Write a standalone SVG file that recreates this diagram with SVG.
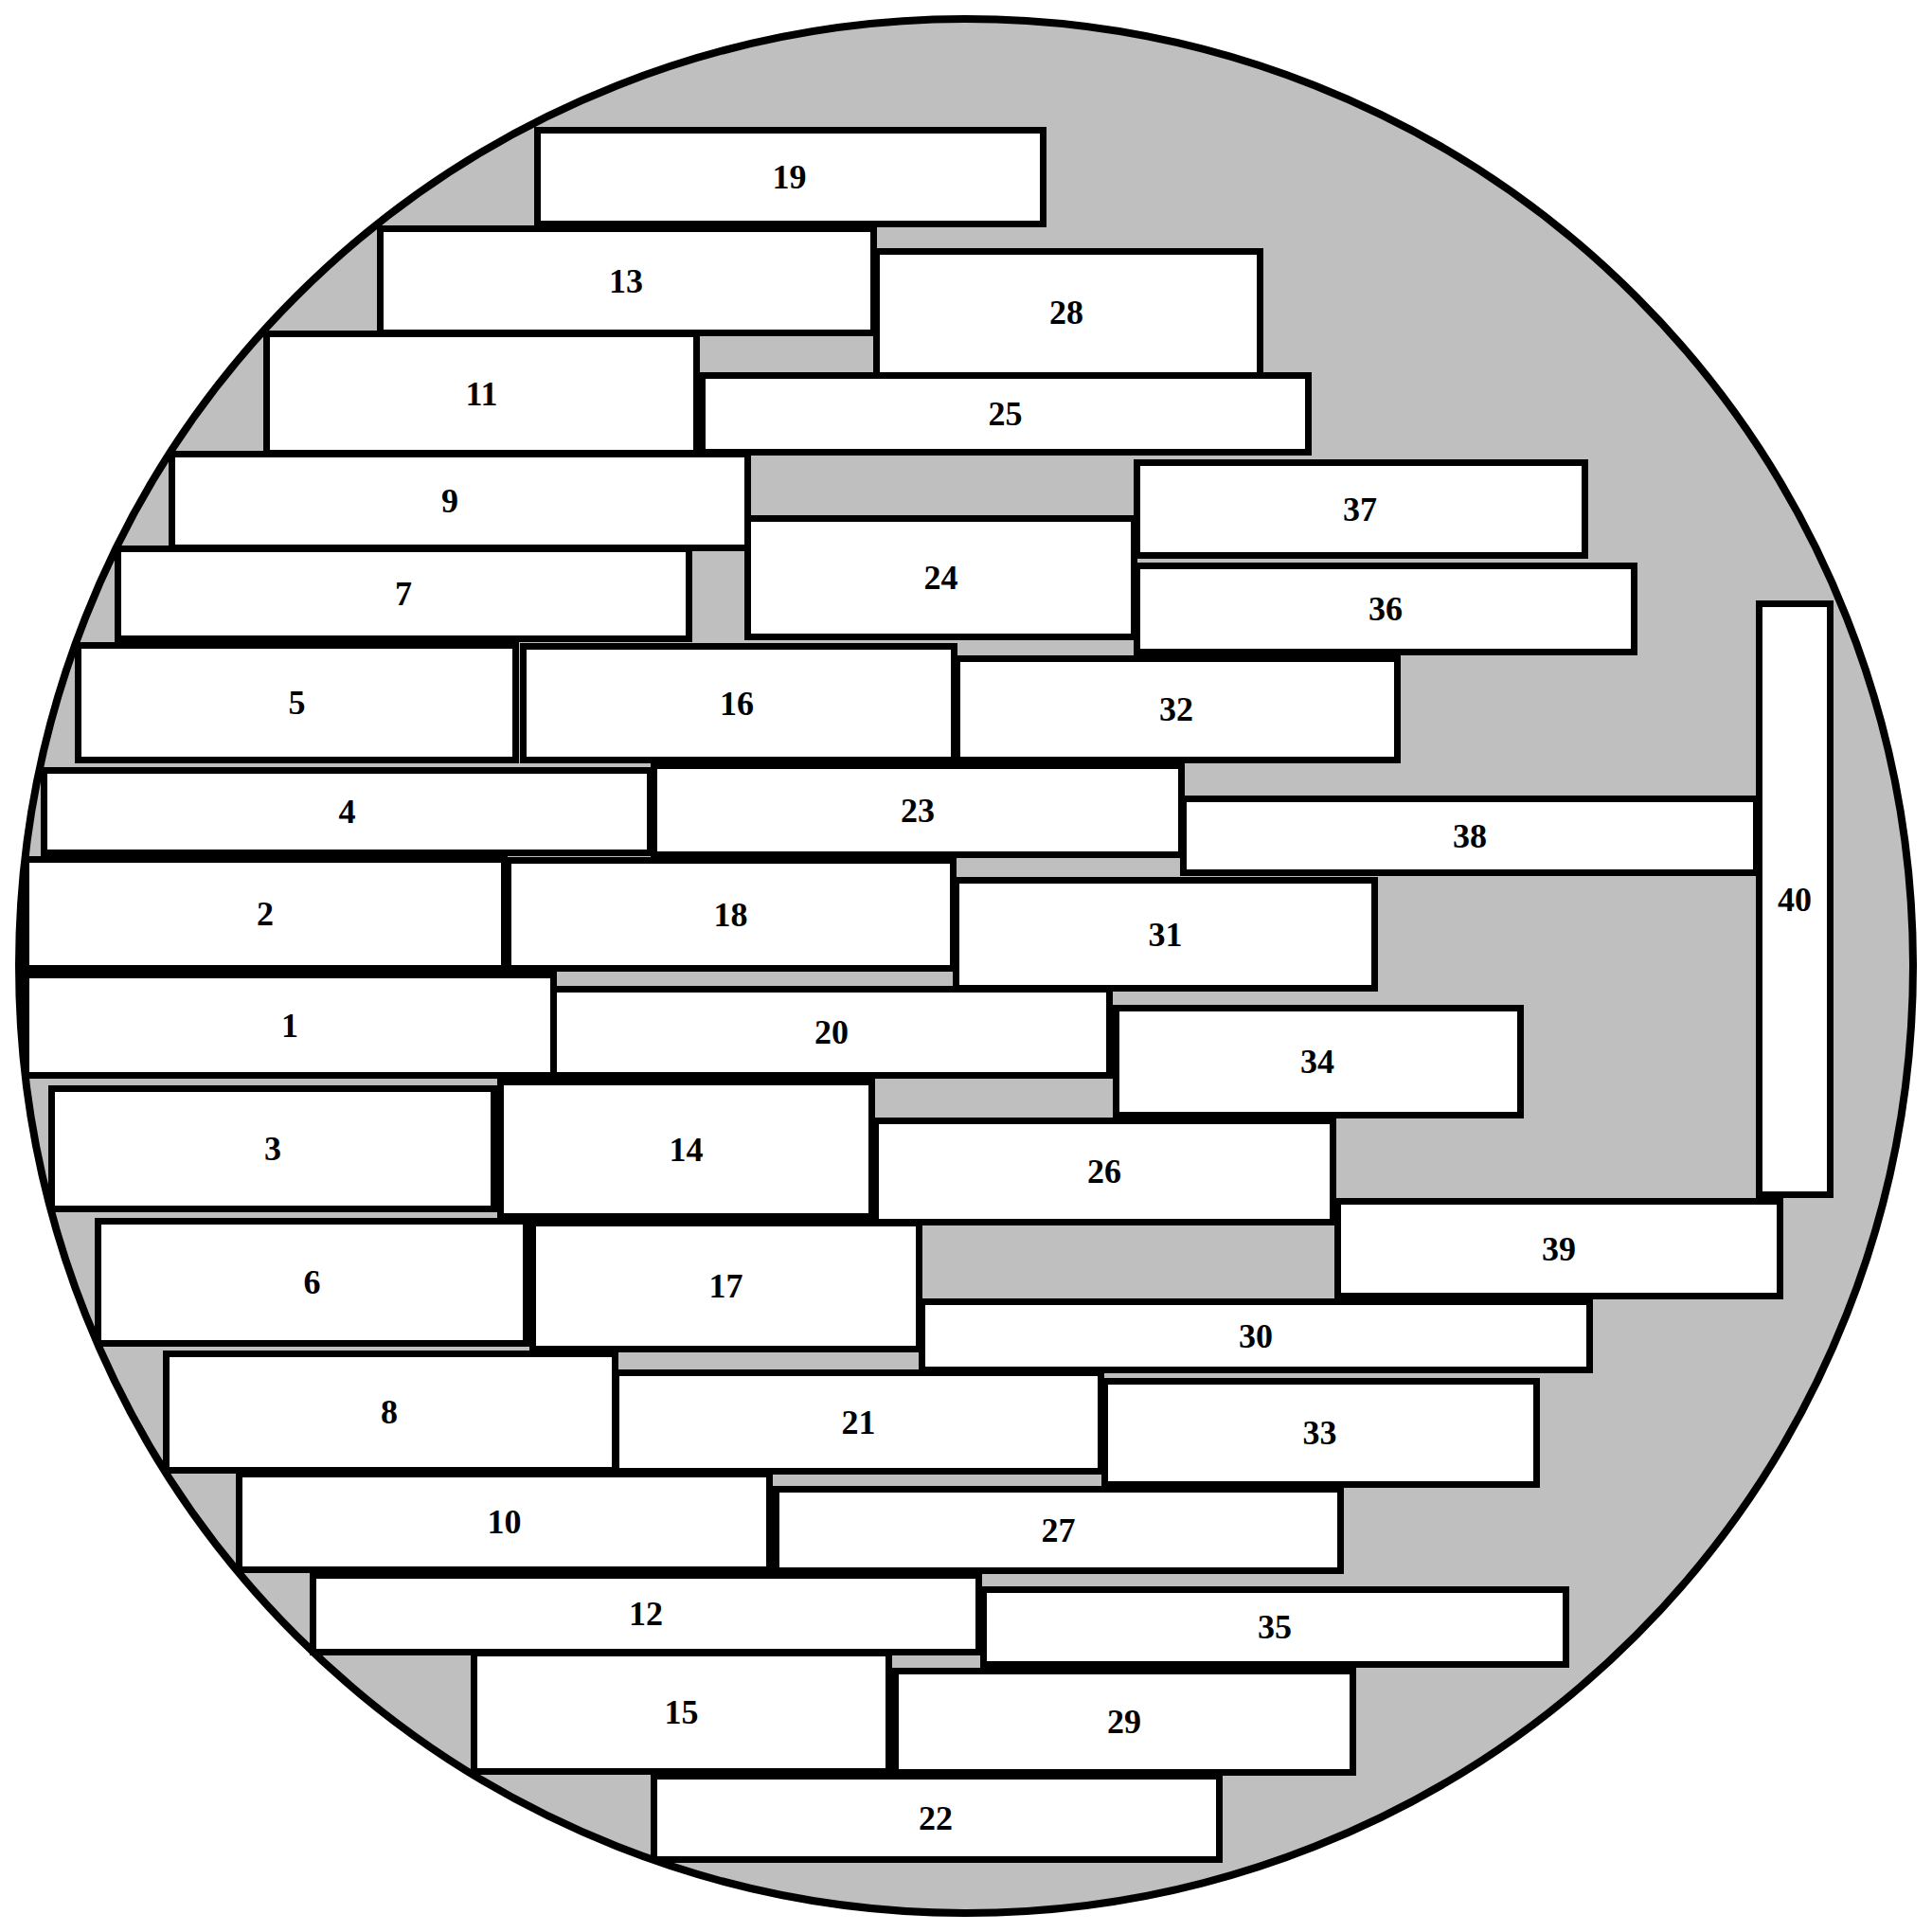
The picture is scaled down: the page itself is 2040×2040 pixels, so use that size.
<svg xmlns="http://www.w3.org/2000/svg" width="2040" height="2040" viewBox="0 0 2040 2040">
<style>
.bg{fill:#fff}
.disc{fill:#bfbfbf;stroke:#000;stroke-width:8}
.n rect{fill:#fff;stroke:#000;stroke-width:7}
.n text{font-family:"Liberation Serif","Times New Roman",serif;font-weight:bold;font-size:36px;text-anchor:middle;fill:#000}
</style>
<rect class="bg" x="0" y="0" width="2040" height="2040"/>
<circle class="disc" cx="1020" cy="1020" r="1000"/>
<g id="nodes">
<g id="n1" class="n"><rect x="27.5" y="1029.5" width="557" height="106"/><text x="306" y="1095">1</text></g>
<g id="n2" class="n"><rect x="27.5" y="907.5" width="505" height="115"/><text x="280" y="977">2</text></g>
<g id="n3" class="n"><rect x="54.5" y="1149.5" width="467" height="127"/><text x="288" y="1225">3</text></g>
<g id="n4" class="n"><rect x="46.5" y="813.5" width="640" height="87"/><text x="366.5" y="869">4</text></g>
<g id="n5" class="n"><rect x="82.5" y="681.5" width="462" height="121"/><text x="313.5" y="754">5</text></g>
<g id="n6" class="n"><rect x="103.5" y="1289.5" width="452" height="129"/><text x="329.5" y="1366">6</text></g>
<g id="n7" class="n"><rect x="124.5" y="579.5" width="603" height="95"/><text x="426" y="639">7</text></g>
<g id="n8" class="n"><rect x="175.5" y="1429.5" width="474" height="123"/><text x="411" y="1503">8</text></g>
<g id="n9" class="n"><rect x="181.5" y="479.5" width="608" height="99"/><text x="475" y="541">9</text></g>
<g id="n10" class="n"><rect x="252.5" y="1556.5" width="560" height="101"/><text x="532.5" y="1619">10</text></g>
<g id="n11" class="n"><rect x="281.5" y="352.5" width="454" height="126"/><text x="508.5" y="428">11</text></g>
<g id="n12" class="n"><rect x="330.5" y="1663.5" width="703" height="81"/><text x="682" y="1716">12</text></g>
<g id="n13" class="n"><rect x="401.5" y="241.5" width="521" height="110"/><text x="661" y="309">13</text></g>
<g id="n14" class="n"><rect x="528.5" y="1142.5" width="392" height="142"/><text x="724.5" y="1226">14</text></g>
<g id="n15" class="n"><rect x="500.5" y="1745.5" width="438" height="125"/><text x="719.5" y="1820">15</text></g>
<g id="n16" class="n"><rect x="552.5" y="682.5" width="455" height="120"/><text x="778" y="755">16</text></g>
<g id="n17" class="n"><rect x="562.5" y="1291.5" width="408" height="133"/><text x="766.5" y="1370">17</text></g>
<g id="n18" class="n"><rect x="536.5" y="908.5" width="470" height="114"/><text x="771.5" y="978">18</text></g>
<g id="n19" class="n"><rect x="567.5" y="137.5" width="534" height="99"/><text x="833.5" y="199">19</text></g>
<g id="n20" class="n"><rect x="584.5" y="1044.5" width="587" height="91"/><text x="878" y="1102">20</text></g>
<g id="n21" class="n"><rect x="650.5" y="1449.5" width="512" height="104"/><text x="906.5" y="1514">21</text></g>
<g id="n22" class="n"><rect x="690.5" y="1875.5" width="597" height="88"/><text x="988" y="1932">22</text></g>
<g id="n23" class="n"><rect x="690.5" y="808.5" width="557" height="94"/><text x="969" y="868">23</text></g>
<g id="n24" class="n"><rect x="789.5" y="547.5" width="408" height="125"/><text x="993.5" y="622">24</text></g>
<g id="n25" class="n"><rect x="741.5" y="396.5" width="640" height="81"/><text x="1061.5" y="449">25</text></g>
<g id="n26" class="n"><rect x="924.5" y="1183.5" width="483" height="107"/><text x="1166" y="1249">26</text></g>
<g id="n27" class="n"><rect x="819.5" y="1572.5" width="596" height="86"/><text x="1117.5" y="1628">27</text></g>
<g id="n28" class="n"><rect x="925.5" y="265.5" width="405" height="131"/><text x="1126" y="342">28</text></g>
<g id="n29" class="n"><rect x="945.5" y="1764.5" width="483" height="107"/><text x="1187" y="1830">29</text></g>
<g id="n30" class="n"><rect x="973.5" y="1374.5" width="705" height="72"/><text x="1326" y="1423">30</text></g>
<g id="n31" class="n"><rect x="1009.5" y="929.5" width="442" height="114"/><text x="1230.5" y="999">31</text></g>
<g id="n32" class="n"><rect x="1010.5" y="695.5" width="465" height="107"/><text x="1242" y="761">32</text></g>
<g id="n33" class="n"><rect x="1166.5" y="1458.5" width="456" height="109"/><text x="1393.5" y="1525">33</text></g>
<g id="n34" class="n"><rect x="1178.5" y="1064.5" width="427" height="113"/><text x="1391" y="1133">34</text></g>
<g id="n35" class="n"><rect x="1038.5" y="1678.5" width="615" height="79"/><text x="1346" y="1730">35</text></g>
<g id="n36" class="n"><rect x="1200.5" y="597.5" width="525" height="91"/><text x="1463" y="655">36</text></g>
<g id="n37" class="n"><rect x="1200.5" y="488.5" width="473" height="98"/><text x="1436" y="550">37</text></g>
<g id="n38" class="n"><rect x="1249.5" y="843.5" width="605" height="78"/><text x="1552" y="895">38</text></g>
<g id="n39" class="n"><rect x="1412.5" y="1268.5" width="467" height="100"/><text x="1646" y="1331">39</text></g>
<g id="n40" class="n"><rect x="1857.5" y="637.5" width="75" height="624"/><text x="1895" y="962">40</text></g>
</g>
<g id="connectors"></g>
</svg>
